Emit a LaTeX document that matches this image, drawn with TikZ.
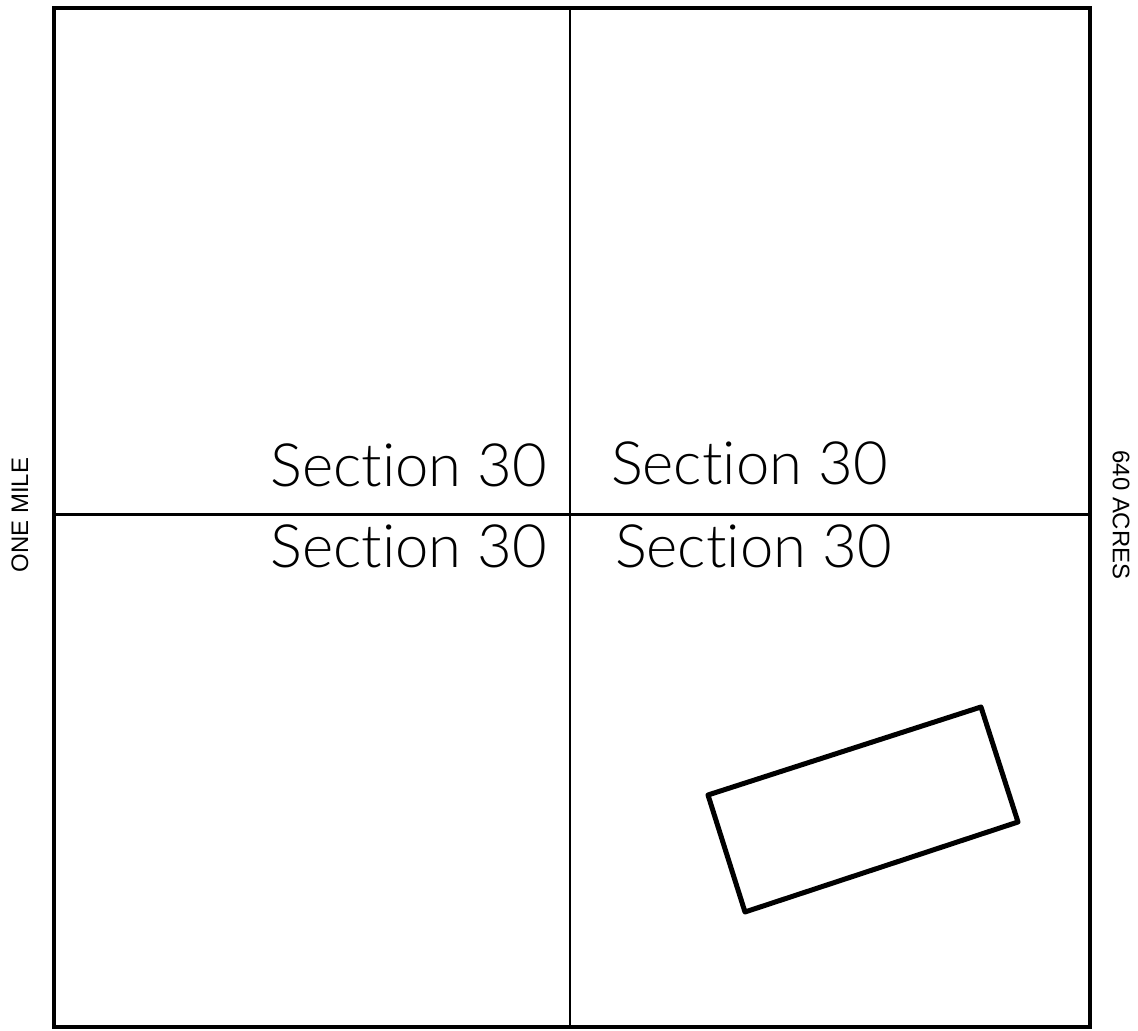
\documentclass[tikz,border=0pt]{standalone}
\usepackage{fontspec}
\setmainfont{Liberation Sans}
\newfontfamily\handfont{Lato}[UprightFont=* Light, Ligatures={NoCommon,NoRare}]
\usepackage{tikz}

\tikzset{
  sectlabel/.style={font=\handfont\fontsize{17}{20}\selectfont, inner sep=0pt},
  sidelabel/.style={font=\fontsize{6.8}{8}\selectfont, inner sep=0pt}
}

\begin{document}
\begin{tikzpicture}[x=0.01cm, y=-0.01cm, line width=0.2mm]

    \useasboundingbox (0,0) rectangle (1138,1031);

    % outer square and quarter lines
    \draw[line width=0.4mm] (54,8) rectangle (1090,1027);
    \draw[line width=0.25mm] (570,8) -- (570,1027);
    \draw[line width=0.3mm] (54,515) -- (1090,515);

    \draw (20,515) node[sidelabel, rotate=90] (onemile) {ONE MILE};
    \draw (1121,515) node[sidelabel, rotate=-90] (acres) {640 ACRES};

    \draw (548,465) node[sectlabel, anchor=east] (secnw) {Section 30};
    \draw (610,463) node[sectlabel, anchor=west] (secne) {Section 30};
    \draw (548,546) node[sectlabel, anchor=east] (secsw) {Section 30};
    \draw (614,546) node[sectlabel, anchor=west] (secse) {Section 30};

    % tilted plot
    \draw[line width=0.5mm, line join=round] (708,795) -- (981,707) -- (1018,822) -- (745,912) -- cycle;

\end{tikzpicture}
\end{document}
